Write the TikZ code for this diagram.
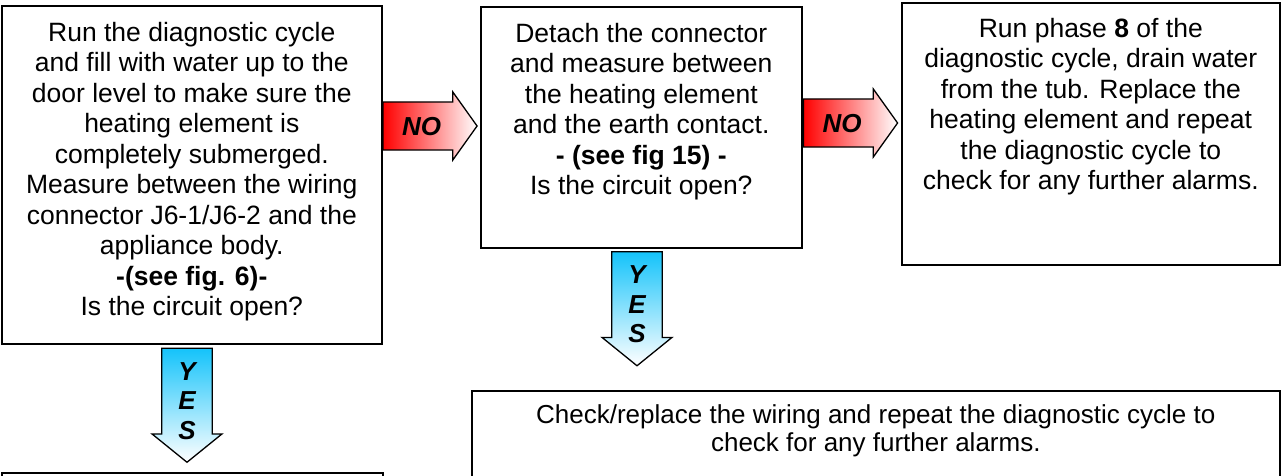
\documentclass[tikz,border=0pt]{standalone}
\usepackage{fontspec}
\setmainfont{Liberation Sans}
\usetikzlibrary{positioning, shapes.arrows}
\definecolor{nored}{RGB}{255,0,0}
\definecolor{yesblue}{RGB}{20,195,250}

\begin{document}
\begin{tikzpicture}[
    x=1pt, y=-1pt,
    stepbox/.style={draw, line width=1.6pt, anchor=north west, inner sep=0pt},
    steptext/.style={align=center, inner sep=0pt, font=\fontsize{26.5}{30.5}\selectfont},
    noarrow/.style={single arrow, draw, line width=1.3pt, left color=nored, right color=white,
        inner sep=0pt, text height=26pt, text depth=7pt, minimum height=94pt, minimum width=68pt,
        single arrow tip angle=109, font=\fontsize{26}{26}\selectfont\bfseries\itshape},
    yesarrow/.style={single arrow, draw, line width=1.3pt, shape border rotate=270,
        top color=yesblue, bottom color=white, inner xsep=9pt, inner ysep=0pt, text width=18pt,
        align=center, minimum height=114pt, minimum width=70pt, single arrow tip angle=102,
        font=\fontsize{26}{29.5}\selectfont\bfseries\itshape},
]
    \useasboundingbox (0,0) rectangle (1281,476);

    % boxes
    \node[stepbox, minimum width=380pt, minimum height=338pt] (stepA) at (1,5) {};
    \node[stepbox, minimum width=321pt, minimum height=241pt] (stepB) at (480,6) {};
    \node[stepbox, minimum width=378pt, minimum height=262pt] (stepC) at (901,2) {};
    \node[stepbox, minimum width=381pt, minimum height=40pt] (stepD) at (1,472) {};
    \node[stepbox, minimum width=808pt, minimum height=110pt] (stepE) at (471,390) {};

    % texts
    \node[steptext, below=17pt of stepA.north] (textA) {
        Run the diagnostic cycle\\
        and fill with water up to the\\
        door level to make sure the\\
        heating element is\\
        completely submerged.\\
        Measure between the wiring\\
        connector J6-1/J6-2 and the\\
        appliance body.\\
        \textbf{-(see fig. 6)-}\\
        Is the circuit open?
    };
    \node[steptext, below=17pt of stepB.north] (textB) {
        Detach the connector\\
        and measure between\\
        the heating element\\
        and the earth contact.\\
        \textbf{- (see fig 15) -}\\
        Is the circuit open?
    };
    \node[steptext, below=16pt of stepC.north] (textC) {
        Run phase \textbf{8} of the\\
        diagnostic cycle, drain water\\
        from the tub. Replace the\\
        heating element and repeat\\
        the diagnostic cycle to\\
        check for any further alarms.
    };
    \node[steptext, below=14pt of stepE.north, font=\fontsize{26}{28.5}\selectfont] (textE) {
        Check/replace the wiring and repeat the diagnostic cycle to\\
        check for any further alarms.
    };

    % arrows
    \node[noarrow] (noA) at (421.5,126) {NO};
    \node[noarrow] (noB) at (842,123) {NO};
    \node[yesarrow] (yesA) at (187,395) {\rule{0pt}{30pt}Y\\E\\S};
    \node[yesarrow] (yesB) at (637,298.5) {\rule{0pt}{30pt}Y\\E\\S};
\end{tikzpicture}
\end{document}
